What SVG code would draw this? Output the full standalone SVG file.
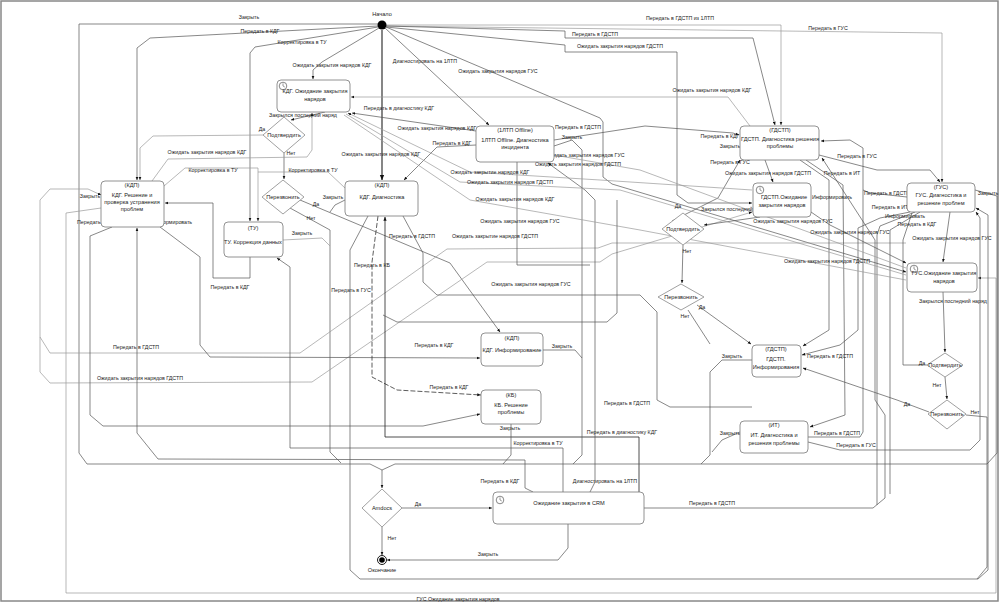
<svg xmlns="http://www.w3.org/2000/svg" width="1000" height="603" viewBox="0 0 1000 603">
<defs>
<marker id="ar" viewBox="0 0 8 8" refX="7.5" refY="4" markerWidth="5" markerHeight="5" orient="auto"><path d="M0,0.8 L8,4 L0,7.2 z" fill="#111"/></marker>
<marker id="ars" viewBox="0 0 8 8" refX="0.5" refY="4" markerWidth="5" markerHeight="5" orient="auto"><path d="M8,0.8 L0,4 L8,7.2 z" fill="#111"/></marker>
<g id="clock"><circle r="3.8" fill="#fff" stroke="#555" stroke-width="0.7"/><path d="M0,0 L0,-2.6 M0,0 L1.8,1" stroke="#555" stroke-width="0.6" fill="none"/></g>
</defs>
<style>
.bg{fill:#fff}
.frame{fill:none;stroke:#888;stroke-width:1.5}
.n{fill:#fff;stroke:#777;stroke-width:0.8}
.d{fill:#fff;stroke:#888;stroke-width:0.8}
.c{fill:none;stroke:#555;stroke-width:0.7}
.g{fill:none;stroke:#999;stroke-width:0.7}
.k{fill:none;stroke:#222;stroke-width:1.1}
.kd{fill:none;stroke:#222;stroke-width:0.8}
.dash{fill:none;stroke:#333;stroke-width:0.8;stroke-dasharray:5 2}
text{font-family:"Liberation Sans",Arial,sans-serif;fill:#222}
.t{font-size:5.6px;text-anchor:middle}
.l{font-size:5.3px;text-anchor:middle}
</style>
<rect class="bg" x="0" y="0" width="1000" height="603"/>
<rect class="frame" x="1" y="1" width="997" height="600"/>

<g id="connectors">
<path class="c" d="M378,24 L79,24 L79,453 L87,464 L370,464 L382,470"/>
<path class="c" d="M378,26 L150,38 L137,48 L137,180" marker-end="url(#ar)"/>
<path class="c" d="M378,27 L255,47 L250,53 L250,221" marker-end="url(#ar)"/>
<path class="c" d="M379,28 L322,62 L313,70 L313,79" marker-end="url(#ar)"/>
<path class="k" d="M382,30 L382,180" marker-end="url(#ar)"/>
<path class="c" d="M385,28 L489,125" marker-end="url(#ar)"/>
<path class="c" d="M386,27 L600,118 L603,122 L603,177 L612,184 L906,272" marker-end="url(#ar)"/>
<path class="g" d="M386,25 L781,25 L781,125" marker-end="url(#ar)"/>
<path class="g" d="M386,26 L942,33 L942,182" marker-end="url(#ar)"/>
<path class="c" d="M386,26 L565,31 L565,38 L753,38 L775,125" marker-end="url(#ar)"/>
<path class="c" d="M386,27 L565,45 L565,52 L677,52 L677,195 L688,203 L752,203" marker-end="url(#ar)"/>
<path class="g" d="M750,126 L728,97 L351,97" marker-end="url(#ar)"/>
<path class="c" d="M325,112 L291,120" marker-end="url(#ar)"/>
<path class="g" d="M263,135 L153,136 L140,148 L140,180" marker-end="url(#ar)"/>
<path class="c" d="M284,153 L284,179" marker-end="url(#ar)"/>
<path class="c" d="M300,200 L450,263 L500,332" marker-end="url(#ar)"/>
<path class="c" d="M290,208 L330,230 L330,452 L341,463"/>
<path class="g" d="M283,240 L322,238 L330,246"/>
<path class="c" d="M250,257 L250,278 L213,278 L213,203 L165,203" marker-end="url(#ar)"/>
<path class="g" d="M152,181 L168,159 L307,157 L312,150 L312,113" marker-end="url(#ar)"/>
<path class="g" d="M164,186 L185,168 L258,168 L258,221" marker-end="url(#ar)"/>
<path class="g" d="M345,188 L328,172 L258,172"/>
<path class="g" d="M101,195 L88,189 L50,189 L40,200 L40,337 L50,353 L300,353 L447,249 L598,248 L612,243 L906,243" marker-start="url(#ars)"/>
<path class="g" d="M40,337 L40,372 L50,383 L312,382 L487,262 L600,262 L612,254 L752,212" marker-end="url(#ar)"/>
<path class="c" d="M112,227 L90,236 L90,415 L103,426 L423,426 L480,414" marker-end="url(#ar)"/>
<path class="c" d="M160,227 L200,257 L200,345 L210,357 L480,358" marker-end="url(#ar)"/>
<path class="c" d="M533,492 L525,488 L525,460 L158,459 L137,433 L137,228" marker-end="url(#ar)"/>
<path class="g" d="M101,208 L66,213 L66,593 L996,593 L996,278 L978,278" marker-end="url(#ar)"/>
<path class="c" d="M345,200 L335,205 L330,212"/>
<path class="c" d="M403,216 L423,253 L423,282 L437,295 L640,295 L657,312 L657,400 L670,407 L752,407"/>
<path class="dash" d="M378,216 L372,262 L372,377 L397,390 L481,395" marker-end="url(#ar)"/>
<path class="c" d="M368,216 L350,250 L350,570 L360,579 L978,579 L988,570 L988,215 L976,208" marker-end="url(#ar)"/>
<path class="kd" d="M639,492 L639,437 L385,437 L385,217" marker-end="url(#ar)"/>
<path class="c" d="M563,492 L563,448 L290,448 L290,267 L277,258" marker-end="url(#ar)"/>
<path class="c" d="M590,492 L595,482 L595,200 L585,190 L548,163" marker-end="url(#ar)"/>
<path class="c" d="M568,524 L568,548 L558,560 L387,560" marker-end="url(#ar)"/>
<path class="c" d="M644,508 L873,508 L885,498 L885,415 L875,400 L875,240 L822,158" marker-end="url(#ar)"/>
<path class="c" d="M402,508 L492,508" marker-end="url(#ar)"/>
<path class="c" d="M382,527 L382,555" marker-end="url(#ar)"/>
<path class="c" d="M975,190 L997,196 L997,453 L987,464 L395,464 L382,470"/>
<path class="c" d="M382,470 L382,488" marker-end="url(#ar)"/>
<path class="c" d="M543,350 L575,350 L582,358 L582,455 L573,464"/>
<path class="c" d="M511,424 L511,455 L503,464"/>
<path class="c" d="M752,360 L722,360 L710,372 L710,455 L701,464"/>
<path class="c" d="M740,432 L722,440 L712,452"/>
<path class="c" d="M808,437 L860,437 L863,432 L863,148 L850,140 L821,141" marker-end="url(#ar)"/>
<path class="c" d="M808,442 L840,450 L970,450 L980,440 L980,218 L976,212" marker-end="url(#ar)"/>
<path class="c" d="M765,160 L773,182" marker-end="url(#ar)"/>
<path class="c" d="M800,160 L829,180 L829,330 L803,346" marker-end="url(#ar)"/>
<path class="c" d="M806,160 L843,185 L845,415 L810,427" marker-end="url(#ar)"/>
<path class="c" d="M819,155 L877,170 L930,170 L940,182" marker-end="url(#ar)"/>
<path class="c" d="M554,140 L645,126 L733,133 L739,135" marker-end="url(#ar)"/>
<path class="c" d="M554,146 L572,140 L582,150 L582,358"/>
<path class="c" d="M476,131 L352,113" marker-end="url(#ar)"/>
<path class="c" d="M476,145 L437,147 L404,180" marker-end="url(#ar)"/>
<path class="c" d="M517,162 L517,265 L590,265"/>
<path class="c" d="M760,217 L704,225" marker-end="url(#ar)"/>
<path class="c" d="M672,221 L718,198 L740,160" marker-end="url(#ar)"/>
<path class="c" d="M683,245 L682,283" marker-end="url(#ar)"/>
<path class="c" d="M697,305 L751,344" marker-end="url(#ar)"/>
<path class="c" d="M688,310 L710,344"/>
<path class="c" d="M950,212 L943,262" marker-end="url(#ar)"/>
<path class="c" d="M943,292 L945,352" marker-end="url(#ar)"/>
<path class="c" d="M945,377 L947,399" marker-end="url(#ar)"/>
<path class="c" d="M927,365 L903,365 L903,240 L912,213"/>
<path class="c" d="M929,412 L897,400 L803,368" marker-end="url(#ar)"/>
<path class="c" d="M966,415 L987,417 L987,567 L977,579"/>
<path class="c" d="M907,197 L870,193 L863,190"/>
<path class="c" d="M910,212 L880,218 L858,228 L858,330 L840,345 L802,355" marker-end="url(#ar)"/>
<path class="c" d="M915,212 L880,226 L877,235 L877,505"/>
<path class="c" d="M920,212 L890,230 L890,494"/>
<path class="c" d="M811,212 L830,225 L906,263" marker-end="url(#ar)"/>
<path class="g" d="M348,113 L470,172 L600,180 L752,190" marker-start="url(#ars)"/>
<path class="g" d="M346,114 L460,182 L620,190 L906,275"/>
<path class="g" d="M344,115 L470,200 L640,230 L906,280"/>
<path class="g" d="M554,155 L640,170 L906,268"/>
<path class="c" d="M383,315 L397,322 L607,322 L617,313 L617,200"/>
</g>

<g id="connector-labels">
<text class="l" x="249" y="19">Закрыть</text>
<text class="l" x="260" y="33">Передать в КДГ</text>
<text class="l" x="302" y="44">Корректировка в ТУ</text>
<text class="l" x="332" y="67">Ожидать закрытия нарядов КДГ</text>
<text class="l" x="425" y="63">Диагностировать на 1ЛТП</text>
<text class="l" x="498" y="73">Ожидать закрытия нарядов ГУС</text>
<text class="l" x="680" y="20">Передать в ГДСТП из 1ЛТП</text>
<text class="l" x="595" y="36">Передать в ГДСТП</text>
<text class="l" x="620" y="48">Ожидать закрытия нарядов ГДСТП</text>
<text class="l" x="828" y="30">Передать в ГУС</text>
<text class="l" x="712" y="92">Ожидать закрытия нарядов КДГ</text>
<text class="l" x="399" y="110">Передать в диагностику КДГ</text>
<text class="l" x="303" y="117">Закрылся последний наряд</text>
<text class="l" x="262" y="131">Да</text>
<text class="l" x="291" y="155">Нет</text>
<text class="l" x="437" y="130">Ожидать закрытия нарядов КДГ</text>
<text class="l" x="452" y="145">Передать в КДГ</text>
<text class="l" x="381" y="156">Ожидать закрытия нарядов КДГ</text>
<text class="l" x="313" y="172">Корректировка в ТУ</text>
<text class="l" x="333" y="199">Закрыть</text>
<text class="l" x="207" y="154">Ожидать закрытия нарядов КДГ</text>
<text class="l" x="213" y="172">Корректировка в ТУ</text>
<text class="l" x="90" y="198">Закрыть</text>
<text class="l" x="95" y="224">Передать в КБ</text>
<text class="l" x="172" y="224">Информировать</text>
<text class="l" x="230" y="289">Передать в КДГ</text>
<text class="l" x="136" y="349">Передать в ГДСТП</text>
<text class="l" x="140" y="380">Ожидать закрытия нарядов ГДСТП</text>
<text class="l" x="316" y="206">Да</text>
<text class="l" x="311" y="220">Нет</text>
<text class="l" x="302" y="235">Закрыть</text>
<text class="l" x="412" y="238">Передать в ГДСТП</text>
<text class="l" x="495" y="238">Ожидать закрытие нарядов ГДСТП</text>
<text class="l" x="372" y="267">Передать в КБ</text>
<text class="l" x="351" y="292">Передать в ГУС</text>
<text class="l" x="531" y="286">Ожидать закрытия нарядов ГУС</text>
<text class="l" x="434" y="347">Передать в КДГ</text>
<text class="l" x="449" y="389">Передать в КДГ</text>
<text class="l" x="562" y="348">Закрыть</text>
<text class="l" x="520" y="223">Ожидать закрытия нарядов ГУС</text>
<text class="l" x="678" y="208">Да</text>
<text class="l" x="735" y="211">Закрылся последний наряд</text>
<text class="l" x="687" y="253">Нет</text>
<text class="l" x="702" y="309">Да</text>
<text class="l" x="685" y="318">Нет</text>
<text class="l" x="732" y="358">Закрыть</text>
<text class="l" x="793" y="223">Ожидать закрытия нарядов ГУС</text>
<text class="l" x="850" y="234">Ожидать закрытия нарядов ГУС</text>
<text class="l" x="890" y="209">Передать в ИТ</text>
<text class="l" x="905" y="218">Информировать</text>
<text class="l" x="917" y="226">Передать в КДГ</text>
<text class="l" x="952" y="240">Ожидать закрытия нарядов ГУС</text>
<text class="l" x="827" y="263">Ожидать закрытия нарядов ГДСТП</text>
<text class="l" x="953" y="303">Закрылся последний наряд</text>
<text class="l" x="830" y="358">Передать в ГДСТП</text>
<text class="l" x="922" y="365">Да</text>
<text class="l" x="937" y="387">Нет</text>
<text class="l" x="837" y="435">Передать в ГДСТП</text>
<text class="l" x="856" y="447">Передать в ГУС</text>
<text class="l" x="975" y="414">Нет</text>
<text class="l" x="907" y="406">Да</text>
<text class="l" x="857" y="158">Передать в ГУС</text>
<text class="l" x="842" y="175">Передать в ИТ</text>
<text class="l" x="832" y="199">Информировать</text>
<text class="l" x="887" y="195">Передать в ГДСТП</text>
<text class="l" x="988" y="195">Закрыть</text>
<text class="l" x="768" y="175">Ожидать закрытия нарядов ГДСТП</text>
<text class="l" x="578" y="129">Передать в ГДСТП</text>
<text class="l" x="572" y="139">Закрыть</text>
<text class="l" x="585" y="157">Ожидать закрытия нарядов ГУС</text>
<text class="l" x="578" y="166">Ожидать закрытия нарядов ГДСТП</text>
<text class="l" x="720" y="138">Передать в КДГ</text>
<text class="l" x="730" y="148">Закрыть</text>
<text class="l" x="730" y="164">Передать в ГУС</text>
<text class="l" x="490" y="174">Ожидать закрытие нарядов КДГ</text>
<text class="l" x="510" y="184">Ожидать закрытия нарядов ГДСТП</text>
<text class="l" x="515" y="201">Ожидать закрытия нарядов КДГ</text>
<text class="l" x="627" y="405">Передать в ГДСТП</text>
<text class="l" x="622" y="434">Передать в диагностику КДГ</text>
<text class="l" x="538" y="445">Корректировка в ТУ</text>
<text class="l" x="510" y="430">Закрыть</text>
<text class="l" x="730" y="435">Закрыть</text>
<text class="l" x="500" y="483">Передать в КДГ</text>
<text class="l" x="605" y="483">Диагностировать на 1ЛТП</text>
<text class="l" x="712" y="505">Передать в ГДСТП</text>
<text class="l" x="418" y="506">Да</text>
<text class="l" x="392" y="540">Нет</text>
<text class="l" x="488" y="556">Закрыть</text>
<text class="l" x="458" y="601">ГУС Ожидание закрытия нарядов</text>
</g>

<g id="n-start"><circle cx="382" cy="25" r="4.5" fill="#000"/><text class="t" x="382" y="16">Начало</text></g>
<g id="n-kdg-wait"><rect class="n" x="277" y="80" width="73" height="32" rx="4"/><use href="#clock" x="283" y="86"/><text class="t" x="315" y="93">КДГ. Ожидание закрытия</text><text class="t" x="315" y="101">нарядов</text></g>
<g id="n-confirm1"><path class="d" d="M284,117 L305,135 L284,153 L263,135 z"/><text class="t" x="284" y="137">Подтвердить</text></g>
<g id="n-recall1"><path class="d" d="M283,180 L304,197 L283,214 L262,197 z"/><text class="t" x="283" y="199">Перезвонить</text></g>
<g id="n-kdp-resolve"><rect class="n" x="101" y="181" width="63" height="46" rx="4"/><text class="t" x="132" y="187">(КДП)</text><text class="t" x="132" y="197">КДГ. Решение и</text><text class="t" x="132" y="204">проверка устранения</text><text class="t" x="132" y="211">проблем</text></g>
<g id="n-tu"><rect class="n" x="224" y="222" width="59" height="35" rx="4"/><text class="t" x="253" y="230">(ТУ)</text><text class="t" x="253" y="244">ТУ. Коррекция данных</text></g>
<g id="n-kdp-diag"><rect class="n" x="345" y="181" width="73" height="35" rx="4"/><text class="t" x="382" y="187">(КДП)</text><text class="t" x="382" y="199">КДГ. Диагностика</text></g>
<g id="n-1ltp"><rect class="n" x="476" y="126" width="78" height="36" rx="4"/><text class="t" x="515" y="132">(1ЛТП Offline)</text><text class="t" x="515" y="142">1ЛТП Offline. Диагностика</text><text class="t" x="515" y="149">инцидента</text></g>
<g id="n-gdstp-diag"><rect class="n" x="740" y="126" width="79" height="34" rx="4"/><text class="t" x="780" y="132">(ГДСТП)</text><text class="t" x="780" y="141">ГДСТП. Диагностика решения</text><text class="t" x="780" y="148">проблемы</text></g>
<g id="n-gdstp-wait"><rect class="n" x="753" y="183" width="58" height="34" rx="4"/><use href="#clock" x="760" y="190"/><text class="t" x="784" y="199">ГДСТП.Ожидание</text><text class="t" x="782" y="207">закрытия нарядов</text></g>
<g id="n-confirm2"><path class="d" d="M683,213 L704,229 L683,245 L662,229 z"/><text class="t" x="683" y="231">Подтвердить</text></g>
<g id="n-recall2"><path class="d" d="M681,284 L704,297 L681,310 L658,297 z"/><text class="t" x="681" y="299">Перезвонить</text></g>
<g id="n-gus-diag"><rect class="n" x="907" y="183" width="68" height="29" rx="4"/><text class="t" x="941" y="189">(ГУС)</text><text class="t" x="941" y="197">ГУС. Диагностика и</text><text class="t" x="941" y="205">решение проблем</text></g>
<g id="n-gus-wait"><rect class="n" x="907" y="263" width="70" height="29" rx="4"/><use href="#clock" x="914" y="269"/><text class="t" x="944" y="275">ГУС.Ожидание закрытия</text><text class="t" x="944" y="283">нарядов</text></g>
<g id="n-confirm3"><path class="d" d="M945,353 L963,365 L945,377 L927,365 z"/><text class="t" x="945" y="367">Подтвердить</text></g>
<g id="n-recall3"><path class="d" d="M947,400 L966,414 L947,429 L928,414 z"/><text class="t" x="947" y="416">Перезвонить</text></g>
<g id="n-gdstp-info"><rect class="n" x="752" y="345" width="49" height="32" rx="4"/><text class="t" x="776" y="351">(ГДСТП)</text><text class="t" x="776" y="361">ГДСТП.</text><text class="t" x="776" y="369">Информирования</text></g>
<g id="n-it"><rect class="n" x="740" y="421" width="68" height="32" rx="4"/><text class="t" x="774" y="427">(ИТ)</text><text class="t" x="774" y="437">ИТ. Диагностика и</text><text class="t" x="774" y="445">решения проблемы</text></g>
<g id="n-kdp-info"><rect class="n" x="481" y="333" width="62" height="33" rx="4"/><text class="t" x="512" y="340">(КДП)</text><text class="t" x="512" y="352">КДГ. Информирование</text></g>
<g id="n-kb"><rect class="n" x="481" y="390" width="60" height="34" rx="4"/><text class="t" x="511" y="397">(КБ)</text><text class="t" x="511" y="407">КБ. Решение</text><text class="t" x="511" y="414">проблемы</text></g>
<g id="n-amdocs"><path class="d" d="M382,489 L402,508 L382,527 L362,508 z"/><text class="t" x="382" y="510">Amdocs</text></g>
<g id="n-crm"><rect class="n" x="493" y="492" width="151" height="32" rx="4"/><use href="#clock" x="500" y="500"/><text class="t" x="569" y="505">Ожидание закрытия в CRM</text></g>
<g id="n-end"><circle cx="382" cy="560" r="4.5" fill="#fff" stroke="#000" stroke-width="0.9"/><circle cx="382" cy="560" r="2.8" fill="#000"/><text class="t" x="382" y="572">Окончание</text></g>
</svg>
